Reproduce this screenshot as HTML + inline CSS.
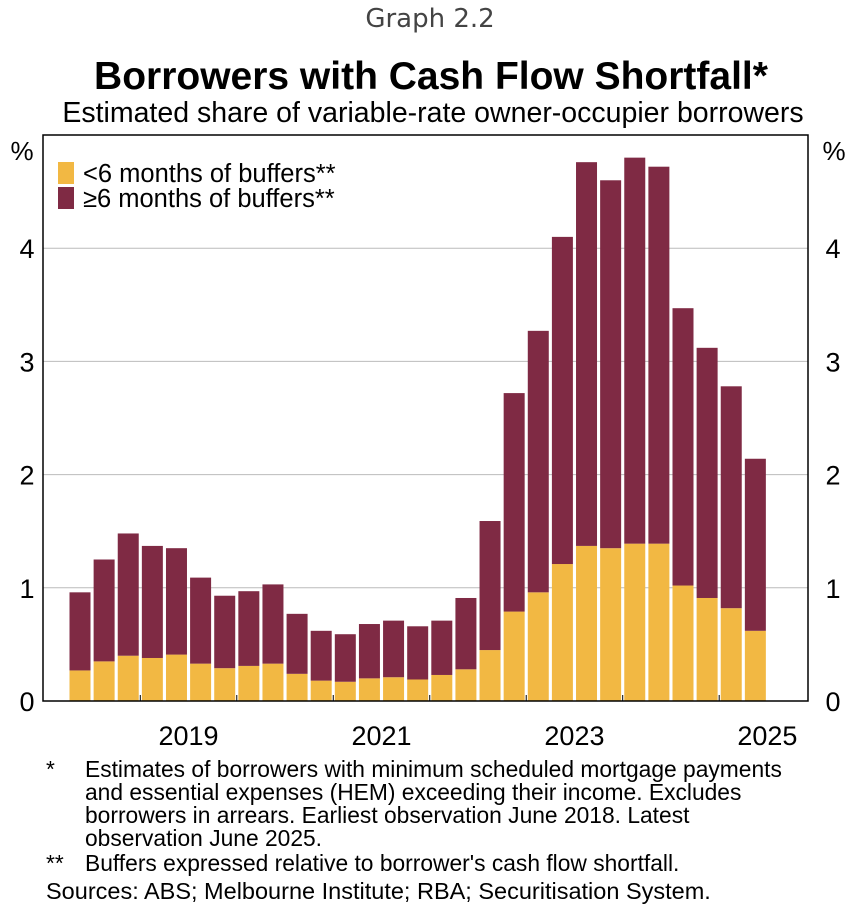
<!DOCTYPE html>
<html><head><meta charset="utf-8"><style>
body{margin:0;background:#fff;font-family:"Liberation Sans",sans-serif;}
</style></head><body>
<svg id="chart" width="865" height="919" xmlns="http://www.w3.org/2000/svg" font-family="Liberation Sans, sans-serif">
<text x="430" y="27" text-anchor="middle" font-size="26" fill="#444" font-family="DejaVu Sans, sans-serif">Graph 2.2</text>
<text x="431" y="89" text-anchor="middle" font-size="39" font-weight="bold">Borrowers with Cash Flow Shortfall*</text>
<text x="433" y="122" text-anchor="middle" font-size="28.5">Estimated share of variable-rate owner-occupier borrowers</text>
<g id="grid"></g>
<g id="bars"></g>
<rect x="43" y="135" width="765" height="566" fill="none" stroke="#000" stroke-width="1.5"/>
<g id="axes" font-size="27"></g>
<text x="22" y="160" text-anchor="middle" font-size="26">%</text>
<text x="834" y="160" text-anchor="middle" font-size="26">%</text>
<g>
<rect x="58" y="162" width="16" height="22" fill="#F2B843"/>
<text x="83" y="182" font-size="25.5">&lt;6 months of buffers**</text>
<rect x="58" y="187" width="16" height="22" fill="#7F2A44"/>
<text x="83" y="207" font-size="25.5">≥6 months of buffers**</text>
</g>
<g font-size="22.8">
<text x="46" y="777">*</text>
<text x="85" y="777">Estimates of borrowers with minimum scheduled mortgage payments</text>
<text x="85" y="800">and essential expenses (HEM) exceeding their income. Excludes</text>
<text x="85" y="823">borrowers in arrears. Earliest observation June 2018. Latest</text>
<text x="85" y="846">observation June 2025.</text>
<text x="46" y="871">**</text>
<text x="85" y="871">Buffers expressed relative to borrower's cash flow shortfall.</text>
<text x="46" y="899" font-size="23.5">Sources: ABS; Melbourne Institute; RBA; Securitisation System.</text>
</g>
</svg>
<script>
const totals=[0.96,1.25,1.48,1.37,1.35,1.09,0.93,0.97,1.03,0.77,0.62,0.59,0.68,0.71,0.66,0.71,0.91,1.59,2.72,3.27,4.10,4.76,4.60,4.80,4.72,3.47,3.12,2.78,2.14];
const under6=[0.27,0.35,0.40,0.38,0.41,0.33,0.29,0.31,0.33,0.24,0.18,0.17,0.20,0.21,0.19,0.23,0.28,0.45,0.79,0.96,1.21,1.37,1.35,1.39,1.39,1.02,0.91,0.82,0.62];
const yTicks=[0,1,2,3,4];
const yearLabels=["2019","2021","2023","2025"];
const yearIndex=[4.5,12.5,20.5,28.5];
const ns="http://www.w3.org/2000/svg";
const y=v=>701-v*113.2;
const x=i=>80+i*24.12;
function mk(tag,attrs,parent){const e=document.createElementNS(ns,tag);for(const k in attrs)e.setAttribute(k,attrs[k]);parent.appendChild(e);return e;}
const grid=document.getElementById('grid'),bars=document.getElementById('bars'),axes=document.getElementById('axes');
yTicks.forEach(t=>{
 if(t>0){const g=mk('line',{x1:43,x2:808,y1:y(t),y2:y(t),stroke:'#bbb','stroke-width':1},grid);
 
 }
 const l=mk('text',{x:27,y:y(t)+10,'text-anchor':'middle'},axes);l.textContent=t;
 
 
 const r=mk('text',{x:833,y:y(t)+10,'text-anchor':'middle'},axes);r.textContent=t;
 
 
});
totals.forEach((t,i)=>{
 const w=21,bx=x(i)-w/2;
 const a=mk('rect',{x:bx,y:y(under6[i]),width:w,height:y(0)-y(under6[i]),fill:'#F2B843'},bars);
 
 
 const b=mk('rect',{x:bx,y:y(t),width:w,height:y(under6[i])-y(t),fill:'#7F2A44'},bars);
 
 
});
yearLabels.forEach((s,k)=>{
 const t=mk('text',{x:x(yearIndex[k]),y:745,'text-anchor':'middle'},axes);t.textContent=s;
 
 
});
for(let k=0;k<=7;k++){const xx=x(2.5+k*4);if(xx>43&&xx<808){const tk=mk('line',{x1:xx,x2:xx,y1:701,y2:695,stroke:'#000','stroke-width':1},axes);
 
 }}
</script>
</body></html>
